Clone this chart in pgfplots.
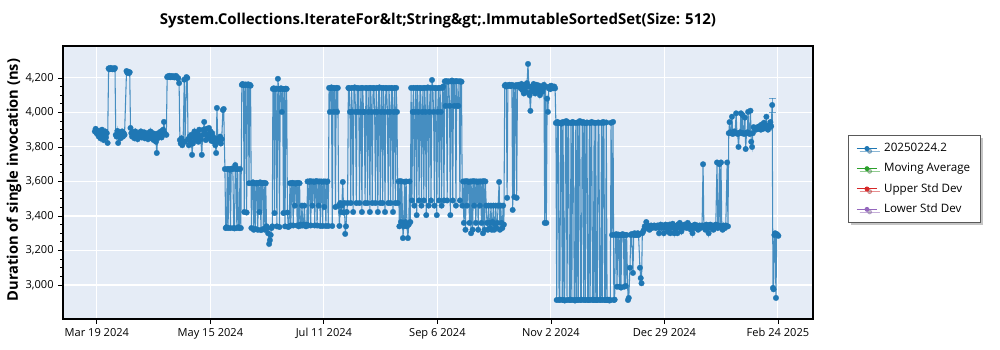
\documentclass[border=0pt]{standalone}
\usepackage{fontspec}
\setmainfont{Open Sans}
\usepackage{pgfplots}
\pgfplotsset{compat=1.18}
\usepackage{pgfplotstable}
\usetikzlibrary{shadows}
\definecolor{tabblue}{HTML}{1F77B4}
\definecolor{tabgreen}{HTML}{2CA02C}
\definecolor{tabred}{HTML}{D62728}
\definecolor{tabpurple}{HTML}{9467BD}
\definecolor{bgblue}{HTML}{E5ECF6}
\pgfplotstableread{
x y
-1.0 3890
-0.6 3905
-0.2 3880
0.2 3895
0.6 3870
1.0 3860
1.4 3890
1.8 3850
2.2 3885
2.6 3900
3.0 3865
3.4 3840
3.8 3875
4.2 3890
4.6 3855
5.0 3880
5.4 3823
5.9 4255
6.3 4250
6.7 4258
7.1 4252
7.5 4256
7.9 4250
8.3 4255
8.7 4251
9.1 4257
9.5 3870
9.9 3860
10.3 3893
10.7 3823
11.1 3870
11.5 3885
11.9 3850
12.3 3875
12.7 3890
13.1 3860
13.5 3880
13.9 3870
14.9 4240
15.3 4230
15.7 4236
16.1 4228
16.5 4233
16.9 3910
17.3 3880
17.7 3860
18.1 3885
18.5 3870
18.9 3850
19.3 3890
19.7 3865
20.1 3875
20.5 3845
20.9 3880
21.3 3860
21.7 3870
22.1 3890
22.5 3855
22.9 3875
23.3 3860
23.7 3885
24.1 3850
24.5 3870
24.9 3865
25.3 3880
25.7 3845
26.1 3875
26.5 3860
26.9 3890
27.3 3850
27.7 3870
28.1 3880
28.5 3840
28.9 3860
29.3 3875
29.7 3830
30.1 3765
30.5 3850
30.9 3880
31.3 3860
31.7 3870
32.1 3890
32.5 3855
32.9 3875
33.3 3900
33.7 3945
34.1 3880
34.9 3870
35.3 4205
35.7 4210
36.1 4206
36.5 4212
36.9 4204
37.3 4208
37.7 4211
38.1 4205
38.5 4209
38.9 4203
39.3 4207
39.7 4212
40.1 4206
40.5 4200
40.9 4198
41.3 4170
41.7 3840
42.1 3820
42.5 3850
42.9 3810
43.3 3830
43.9 4190
44.3 3830
45.0 4205
45.4 4200
45.8 3845
46.2 3810
46.6 3860
47.0 3835
47.4 3870
47.8 3754
48.2 3820
48.6 3860
49.0 3890
49.4 3840
49.8 3875
50.2 3850
50.6 3880
51.0 3830
51.4 3900
51.8 3860
52.2 3845
52.7 3754
53.1 3870
53.5 3900
53.9 3945
54.3 3880
54.7 3840
55.1 3905
55.5 3860
55.9 3870
56.3 3910
56.7 3850
57.1 3890
57.5 3835
57.9 3880
58.3 3860
58.7 3830
59.1 3850
59.5 3810
59.9 3765
60.3 4026
60.7 3840
61.1 3830
61.5 3850
61.9 3860
62.3 3820
62.7 3845
63.3 4014
63.7 4020
64.3 3672
64.7 3330
65.1 3335
65.5 3672
65.9 3330
66.3 3672
66.7 3668
67.1 3330
67.5 3672
67.9 3675
68.3 3672
68.7 3330
69.1 3328
69.5 3695
69.9 3672
70.3 3330
70.7 3672
71.1 3335
71.5 3330
71.9 3672
72.3 3330
72.8 4160
73.2 4165
73.6 4158
74.0 3423
74.4 4160
74.8 4162
75.2 3420
75.6 4158
76.0 4163
76.4 3590
76.8 4160
77.2 4155
77.6 3330
78.0 3590
78.4 3595
78.8 3320
79.2 3590
79.6 3325
80.0 3588
80.4 3592
80.8 3320
81.2 3590
81.6 3423
82.0 3595
82.4 3318
82.8 3590
83.2 3590
83.6 3325
84.0 3592
84.4 3320
84.8 3590
85.2 3340
85.6 3330
86.0 3300
86.5 3238
86.9 3260
87.3 3290
87.7 3330
88.1 3340
88.4 4136
88.8 4140
89.2 3417
89.6 4136
90.0 4138
90.4 3340
90.9 4195
91.3 4136
91.7 3336
92.1 4136
92.5 4140
92.9 4003
93.3 4136
93.7 3417
94.1 4136
94.5 3340
94.9 4138
95.3 4136
95.7 3420
96.1 3336
96.5 3340
97.0 3590
97.4 3345
97.8 3590
98.2 3592
98.6 3345
99.0 3590
99.4 3460
99.8 3588
100.2 3590
100.6 3345
101.0 3592
101.4 3340
101.8 3590
102.2 3350
102.6 3345
103.0 3460
103.4 3345
103.8 3350
104.2 3460
104.6 3345
105.0 3340
105.4 3350
105.8 3600
106.2 3345
106.6 3598
107.0 3602
107.4 3345
107.8 3600
108.2 3460
108.6 3600
109.0 3598
109.4 3345
109.8 3600
110.2 3602
110.6 3345
111.0 3600
111.4 3460
111.8 3600
112.2 3342
112.6 3600
113.0 3598
113.4 3342
113.8 3600
114.2 3452
114.6 3600
115.0 3342
115.4 3598
115.8 3600
116.2 3342
116.6 4142
117.0 4003
117.4 4142
117.8 4145
118.2 3342
118.6 4142
119.0 4003
119.4 4140
119.8 3452
120.2 4142
120.6 4003
121.0 4142
121.4 3460
121.8 3342
122.2 3475
122.6 3423
123.0 3460
123.5 3597
123.9 3420
124.3 3475
124.7 3296
125.1 3340
125.5 3423
125.9 3475
126.3 4142
126.7 4140
127.1 4003
127.5 3475
127.9 4142
128.3 4003
128.7 3423
129.1 4142
129.5 4145
129.9 4003
130.3 3475
130.7 4142
131.1 4003
131.5 4140
131.9 3475
132.3 4003
132.7 4142
133.1 3423
133.5 4142
133.9 4003
134.3 4003
134.7 3475
135.1 4142
135.5 4140
135.9 3475
136.3 4003
136.7 4142
137.1 3423
137.5 4142
137.9 4003
138.3 3475
138.7 4142
139.1 4140
139.5 4003
139.9 3475
140.3 4142
140.7 4003
141.1 3423
141.5 4142
141.9 4145
142.3 3475
142.7 4003
143.1 4142
143.5 3475
143.9 4142
144.3 4003
144.7 3423
145.1 4142
145.5 4140
145.9 4003
146.3 3475
146.7 4142
147.1 4003
147.5 3475
147.9 4142
148.3 4140
148.7 3423
149.1 4003
149.5 4142
149.9 3475
150.3 4142
150.7 4003
151.1 3475
151.5 3600
151.9 3340
152.3 3602
152.7 3365
153.1 3600
153.7 3272
154.1 3340
154.5 3598
154.9 3365
155.3 3600
155.7 3340
156.2 3272
156.6 3350
157.0 3600
157.4 3365
157.8 4142
158.2 3490
158.6 4003
159.0 4142
159.4 3460
159.8 4003
160.2 4142
160.6 3405
161.0 4142
161.4 4003
161.8 3490
162.2 4142
162.6 4140
163.0 3460
163.4 4003
163.8 4142
164.2 3490
164.6 4142
165.0 4003
165.4 3405
165.8 4142
166.2 4145
166.6 3460
167.0 4003
167.4 4142
167.8 3490
168.3 4188
168.7 4142
169.1 4003
169.5 3460
169.9 4142
170.3 4140
170.7 3405
171.1 4003
171.5 4142
171.9 3490
172.3 4142
172.7 4003
173.1 3460
173.5 4142
173.9 4150
174.3 3490
174.7 4180
175.1 4038
175.5 4182
175.9 3490
176.3 4178
176.7 4180
177.1 4038
177.5 3405
177.9 4180
178.3 4185
178.7 3490
179.1 4180
179.5 4038
179.9 4180
180.3 3460
180.7 4182
181.1 4038
181.5 4038
181.9 4180
182.3 3490
182.7 4180
183.1 4178
183.5 3460
183.9 3600
184.3 3360
184.7 3600
185.1 3320
185.5 3602
185.9 3460
186.3 3600
186.7 3598
187.1 3360
187.5 3600
187.9 3300
188.3 3600
188.7 3320
189.1 3602
189.5 3460
189.9 3600
190.3 3360
190.7 3600
191.1 3598
191.5 3320
191.9 3600
192.3 3460
192.7 3600
193.1 3360
193.5 3600
193.9 3300
194.3 3602
194.7 3320
195.1 3600
195.5 3460
195.9 3360
196.3 3320
196.7 3460
197.1 3360
197.5 3330
197.9 3460
198.3 3320
198.7 3365
199.1 3460
199.5 3320
199.9 3350
200.3 3460
200.7 3330
201.1 3360
201.5 3460
202.0 3597
202.4 3320
202.8 3460
203.2 3360
203.6 3330
204.0 3460
204.4 3350
204.8 4155
205.2 4160
205.6 4150
206.0 3505
206.4 4155
206.8 4158
207.2 4160
207.6 4152
208.0 4155
208.4 4160
208.8 3435
209.2 4155
209.6 3510
210.0 4150
210.4 4158
210.8 3505
211.2 4155
211.6 4160
212.0 4150
212.4 4155
212.8 4140
213.2 4165
213.6 4130
214.0 4155
214.4 4110
214.8 4160
215.2 4145
215.6 4120
216.0 4170
216.5 4281
216.9 4150
217.3 4100
217.7 4009
218.1 4120
218.5 4150
218.9 4140
219.3 4165
219.7 4130
220.1 4110
220.5 4150
220.9 4160
221.3 4125
221.7 4140
222.1 4155
222.5 4100
222.9 4130
223.3 4150
223.7 4120
224.1 4140
224.5 4160
224.9 3360
225.3 4150
225.7 3360
226.1 4080
226.5 4003
226.9 4140
227.3 4150
227.7 4135
228.1 4155
228.5 4145
228.9 4150
229.3 4140
229.7 4150
230.1 4140
230.5 3939
230.9 2913
231.3 3945
231.7 3939
232.1 2913
232.5 2915
232.9 3940
233.3 3935
233.7 2913
234.1 3945
234.5 2913
234.9 2910
235.3 3940
235.7 3950
236.1 2913
236.5 3939
236.9 3942
237.3 2913
237.7 2915
238.1 3938
238.5 2913
238.9 3945
239.3 3940
239.7 2913
240.1 2910
240.5 3939
240.9 2913
241.3 3942
241.7 2913
242.1 3940
242.5 3950
242.9 2913
243.3 2915
243.7 3939
244.1 3945
244.5 2913
244.9 3940
245.3 2913
245.7 3938
246.1 3942
246.5 2913
246.9 2913
247.3 3940
247.7 2913
248.1 3939
248.5 3945
248.9 2915
249.3 2913
249.7 3940
250.1 2913
250.5 3939
250.9 2913
251.3 2913
251.7 3942
252.1 3940
252.5 2913
253.0 2915
253.4 3939
253.8 2913
254.2 3945
254.6 3940
255.0 2913
255.4 2913
255.8 3942
256.2 2913
256.6 2915
257.0 2913
257.4 2910
257.8 2913
258.2 3940
258.7 3290
259.2 3945
259.6 2913
260.0 2915
260.4 3290
260.8 3295
261.2 2990
261.6 3290
262.0 3292
262.4 2990
262.8 3290
263.2 2985
263.6 3290
264.0 3295
264.4 3290
264.8 2990
265.2 3290
265.6 2995
266.0 3290
266.7 2913
267.1 2925
267.7 3100
268.1 3290
268.5 3295
269.2 3070
269.6 3290
270.0 3300
270.4 3290
270.8 3295
271.2 3290
271.6 3300
272.0 3290
272.7 3100
273.1 3040
273.5 3010
273.9 3300
274.3 3310
274.7 3320
275.1 3340
275.5 3330
275.9 3365
276.3 3345
276.7 3335
277.1 3340
277.5 3320
277.9 3335
278.3 3345
278.7 3330
279.1 3340
279.5 3335
279.9 3345
280.3 3340
280.7 3330
281.1 3340
281.5 3345
281.9 3335
282.3 3300
282.7 3340
283.1 3350
283.5 3330
283.9 3345
284.3 3340
284.7 3300
285.1 3340
285.5 3350
285.9 3330
286.3 3345
286.7 3310
287.1 3340
287.5 3350
287.9 3300
288.3 3345
288.7 3330
289.1 3355
289.5 3340
289.9 3300
290.3 3340
290.7 3320
291.1 3345
291.5 3300
291.9 3350
292.3 3335
292.7 3360
293.1 3340
293.5 3310
293.9 3345
294.3 3330
294.7 3340
295.1 3350
295.5 3335
295.9 3345
296.3 3330
296.7 3360
297.1 3340
297.5 3335
297.9 3345
298.3 3320
298.7 3340
299.1 3300
299.5 3345
299.9 3330
300.3 3350
300.7 3340
301.1 3330
301.5 3345
301.9 3320
302.3 3340
302.7 3345
303.1 3330
303.5 3340
303.9 3345
304.4 3700
304.8 3335
305.2 3340
305.6 3320
306.0 3350
306.4 3330
306.8 3345
307.2 3300
307.6 3340
308.0 3350
308.4 3330
308.8 3345
309.2 3340
309.6 3320
310.0 3345
310.4 3335
310.8 3350
311.4 3710
311.8 3330
312.2 3345
312.6 3700
313.0 3340
313.4 3710
313.8 3335
314.2 3320
314.6 3345
315.0 3340
315.4 3330
315.8 3345
316.5 3710
316.9 3340
317.3 3880
317.7 3944
318.1 3885
318.5 3880
318.9 3975
319.3 3875
319.7 3880
320.1 3890
320.5 3880
321.0 3995
321.4 3880
321.8 3875
322.2 3800
322.6 3880
323.0 3885
323.4 3995
323.8 3880
324.2 3985
324.6 3880
325.0 3875
325.4 3970
325.8 3788
326.2 3880
326.6 3885
327.0 4003
327.4 3880
327.8 3875
328.2 4010
328.6 3830
329.0 3800
329.4 3880
329.8 3915
330.2 3910
330.6 3905
331.0 3900
331.4 3910
331.8 3915
332.2 3905
332.6 3920
333.0 3910
333.4 3900
333.8 3930
334.2 3915
334.6 3905
335.0 3940
335.4 3910
335.8 3920
336.2 3975
336.6 3910
337.0 3900
337.4 3925
337.8 3915
338.2 3944
338.6 3920
339.1 4043
339.5 2983
339.8 2975
340.2 3290
340.6 3300
341.0 2925
341.4 3295
341.8 3290
342.2 3285
}\datatable
\begin{document}
\begin{tikzpicture}
\useasboundingbox (0,0) rectangle (750pt,262.5pt);
\begin{axis}[
  at={(47.25pt,23.25pt)}, anchor=south west,
  scale only axis, width=562.5pt, height=204.75pt,
  xmin=-17, xmax=359.6, ymin=2803, ymax=4385,
  axis background/.style={fill=bgblue},
  axis line style={line width=0.8pt},
  grid=major, major grid style={white, line width=0.8pt},
  xtick={0,57,114,171,228,285,342},
  xticklabels={Mar 19 2024, May 15 2024, Jul 11 2024, Sep 6 2024, Nov 2 2024, Dec 29 2024, Feb 24 2025},
  ytick={3000,3200,3400,3600,3800,4000,4200},
  minor y tick num=3,
  tick align=outside, xtick pos=bottom, ytick pos=left,
  major tick length=3.5pt, minor tick length=2pt,
  tick style={black, line width=0.6pt},
  /pgf/number format/assume math mode=true,
  yticklabel style={/pgf/number format/1000 sep={,}},
  ticklabel style={font=\fontsize{8.3}{10}\selectfont},
  title={System.Collections.IterateFor\&lt;String\&gt;.ImmutableSortedSet(Size: 512)},
  title style={font=\bfseries\fontsize{11.25}{13}\selectfont, at={(rel axis cs:0.5,1)}, anchor=center, yshift=13pt},
  ylabel={Duration of single invocation (ns)},
  ylabel style={font=\bfseries\fontsize{11}{13}\selectfont, at={(rel axis cs:0,0.5)}, anchor=center, yshift=36.75pt, xshift=1.9pt},
  legend style={at={(rel axis cs:1.0467,0.674)}, anchor=north west, font=\fontsize{8.7}{10.5}\selectfont, draw=black!65, fill=white, line width=0.6pt, row sep=3.2pt, inner xsep=6pt, inner ysep=4pt, drop shadow={shadow xshift=2pt, shadow yshift=-2pt, fill=black!45}, /tikz/every odd column/.append style={column sep=3pt}},
  legend cell align=left,
  legend image code/.code={\draw[#1, line width=0.8pt, opacity=1] (0pt,0pt) -- (15pt,0pt); \fill[#1, opacity=1] (7.5pt,0pt) circle (1.5pt);},
]
\addplot[color=tabblue, line width=0.8pt, draw opacity=0.8, mark=*, mark size=2.1pt, mark options={draw opacity=1, fill opacity=1, line width=0.2pt}] table[x=x,y=y]{\datatable};
\addlegendentry{20250224.2}
\addlegendimage{color=tabgreen}
\addlegendentry{Moving Average}
\addlegendimage{color=tabred}
\addlegendentry{Upper Std Dev}
\addlegendimage{color=tabpurple}
\addlegendentry{Lower Std Dev}
\addplot[color=tabblue, draw opacity=0.6, line width=0.7pt, forget plot, mark=none, error bars/.cd, y dir=both, y explicit, error bar style={line width=0.7pt}, error mark options={rotate=90, mark size=2.5pt}] coordinates {(339.1,4043) +- (0,40)};
\end{axis}
\end{tikzpicture}
\end{document}
